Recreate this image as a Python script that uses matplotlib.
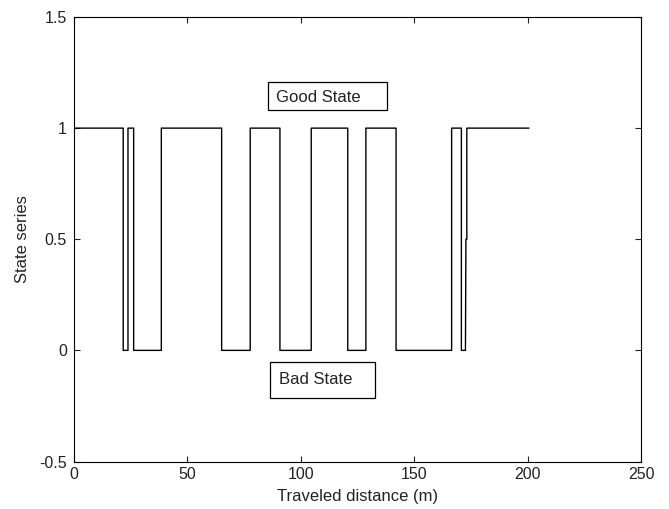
import matplotlib
matplotlib.use("Agg")
import matplotlib.pyplot as plt
from matplotlib.patches import Rectangle

# Step series: distance (m) and state value
distance = [0, 21.7, 21.7, 23.8, 23.8, 26.3, 26.3, 38.5, 38.5, 65.1, 65.1,
            77.7, 77.7, 90.8, 90.8, 104.6, 104.6, 120.7, 120.7, 128.7, 128.7,
            142.0, 142.0, 166.5, 166.5, 170.8, 170.8, 172.6, 172.8, 173.2, 173.2, 200.5]
state = [1, 1, 0, 0, 1, 1, 0, 0, 1, 1, 0,
         0, 1, 1, 0, 0, 1, 1, 0, 0, 1,
         1, 0, 0, 1, 1, 0, 0, 0.5, 0.5, 1, 1]

xticks = [0, 50, 100, 150, 200, 250]
yticks = [-0.5, 0, 0.5, 1, 1.5]
ytick_labels = ["-0.5", "0", "0.5", "1", "1.5"]

plt.rcParams['font.family'] = ['Liberation Sans', 'DejaVu Sans']

fig = plt.figure(figsize=(6.69, 5.09), dpi=100)
ax = fig.add_axes([74/669, 1 - 461.5/509, (641-74)/669, (461.5-17)/509])

ax.plot(distance, state, color='black', linewidth=1.0)

ax.set_xlim(0, 250)
ax.set_ylim(-0.5, 1.5)
ax.set_xticks(xticks)
ax.set_xticklabels([str(v) for v in xticks])
ax.set_yticks(yticks)
ax.set_yticklabels(ytick_labels)
ax.tick_params(direction='in', top=True, right=True, length=4.5, width=0.8,
               labelsize=11.5, pad=5, colors='#222222', labelcolor='#222222')
ax.tick_params(axis='x', pad=4)
for s in ax.spines.values():
    s.set_linewidth(0.8)

ax.set_xlabel("Traveled distance (m)", fontsize=12, labelpad=5, color='#222222')
ax.set_ylabel("State series", fontsize=12, labelpad=7, color='#222222')

# Annotation boxes
ax.add_patch(Rectangle((85.5, 1.081), 52.5, 0.126, fill=False, edgecolor='black',
                       linewidth=0.9, clip_on=False))
ax.text(89.0, 1.137, "Good State", fontsize=12, ha='left', va='center', color='#222222')
ax.add_patch(Rectangle((86.4, -0.215), 46.3, 0.162, fill=False, edgecolor='black',
                       linewidth=0.9, clip_on=False))
ax.text(90.5, -0.13, "Bad State", fontsize=12, ha='left', va='center', color='#222222')

fig.savefig("out.png", dpi=100)
